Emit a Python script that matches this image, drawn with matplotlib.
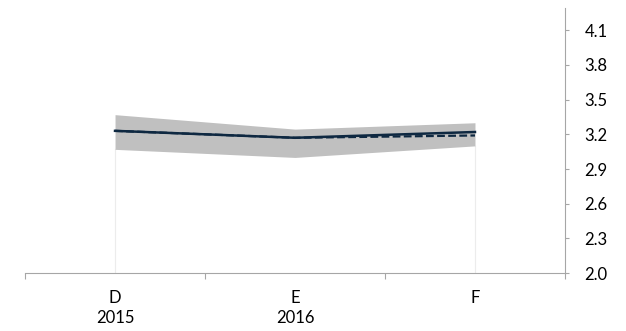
import matplotlib

matplotlib.use("Agg")
import matplotlib.pyplot as plt
import matplotlib.transforms as mtransforms

# Data
categories = ["D", "E", "F"]
years = ["2015", "2016", ""]
actual = [3.23, 3.17, 3.22]
projected = [3.23, 3.17, 3.19]
band_low = [3.07, 3.00, 3.10]
band_high = [3.37, 3.245, 3.30]
y_ticks = [2.0, 2.3, 2.6, 2.9, 3.2, 3.5, 3.8, 4.1]

NAVY = "#0e2841"
AXIS_GREY = "#a6a6a6"
FS = 12

plt.rcParams["font.family"] = ["Lato", "DejaVu Sans"]

fig = plt.figure(figsize=(6.26, 3.31), dpi=100)
ax = fig.add_axes([0.040, 0.175, 0.8625, 0.80])

x = list(range(len(categories)))
ax.fill_between(x, band_low, band_high, color="#c0c0c0", lw=0, zorder=1)
# faint drop lines at the band ends
for xi, lo in [(x[0], band_low[0]), (x[-1], band_low[-1])]:
    ax.plot([xi, xi], [2.0, lo], color="#ececec", lw=0.8, zorder=0.5)
ax.plot(x, projected, color=NAVY, lw=1.6, ls=(0, (3.5, 1.5)), zorder=2)
ax.plot(x, actual, color=NAVY, lw=1.8, zorder=3)

ax.set_xlim(-0.5, len(categories) - 0.5)
ax.set_ylim(2.0, 4.29)

# y axis on the right
ax.yaxis.tick_right()
ax.set_yticks(y_ticks)
ax.set_yticklabels([f"{v:.1f}" for v in y_ticks])
ax.tick_params(axis="y", direction="out", length=3, color=AXIS_GREY,
               labelsize=FS, pad=11, labelcolor="black")

# category boundaries as major ticks, labels on minor ticks
ax.set_xticks([i - 0.5 for i in range(len(categories) + 1)])
ax.set_xticklabels([])
ax.set_xticks(x, minor=True)
ax.set_xticklabels(categories, minor=True)
ax.tick_params(axis="x", which="major", direction="out", length=4,
               color=AXIS_GREY)
ax.tick_params(axis="x", which="minor", length=0, labelsize=FS, pad=12.5)

trans = mtransforms.blended_transform_factory(ax.transData, ax.transAxes)
for xi, yr in zip(x, years):
    if yr:
        ax.text(xi, -0.17, yr, transform=trans, ha="center", va="center",
                fontsize=FS)

for side in ["left", "top"]:
    ax.spines[side].set_visible(False)
ax.spines["bottom"].set_color(AXIS_GREY)
ax.spines["right"].set_color(AXIS_GREY)

fig.savefig("out.png", dpi=100)
